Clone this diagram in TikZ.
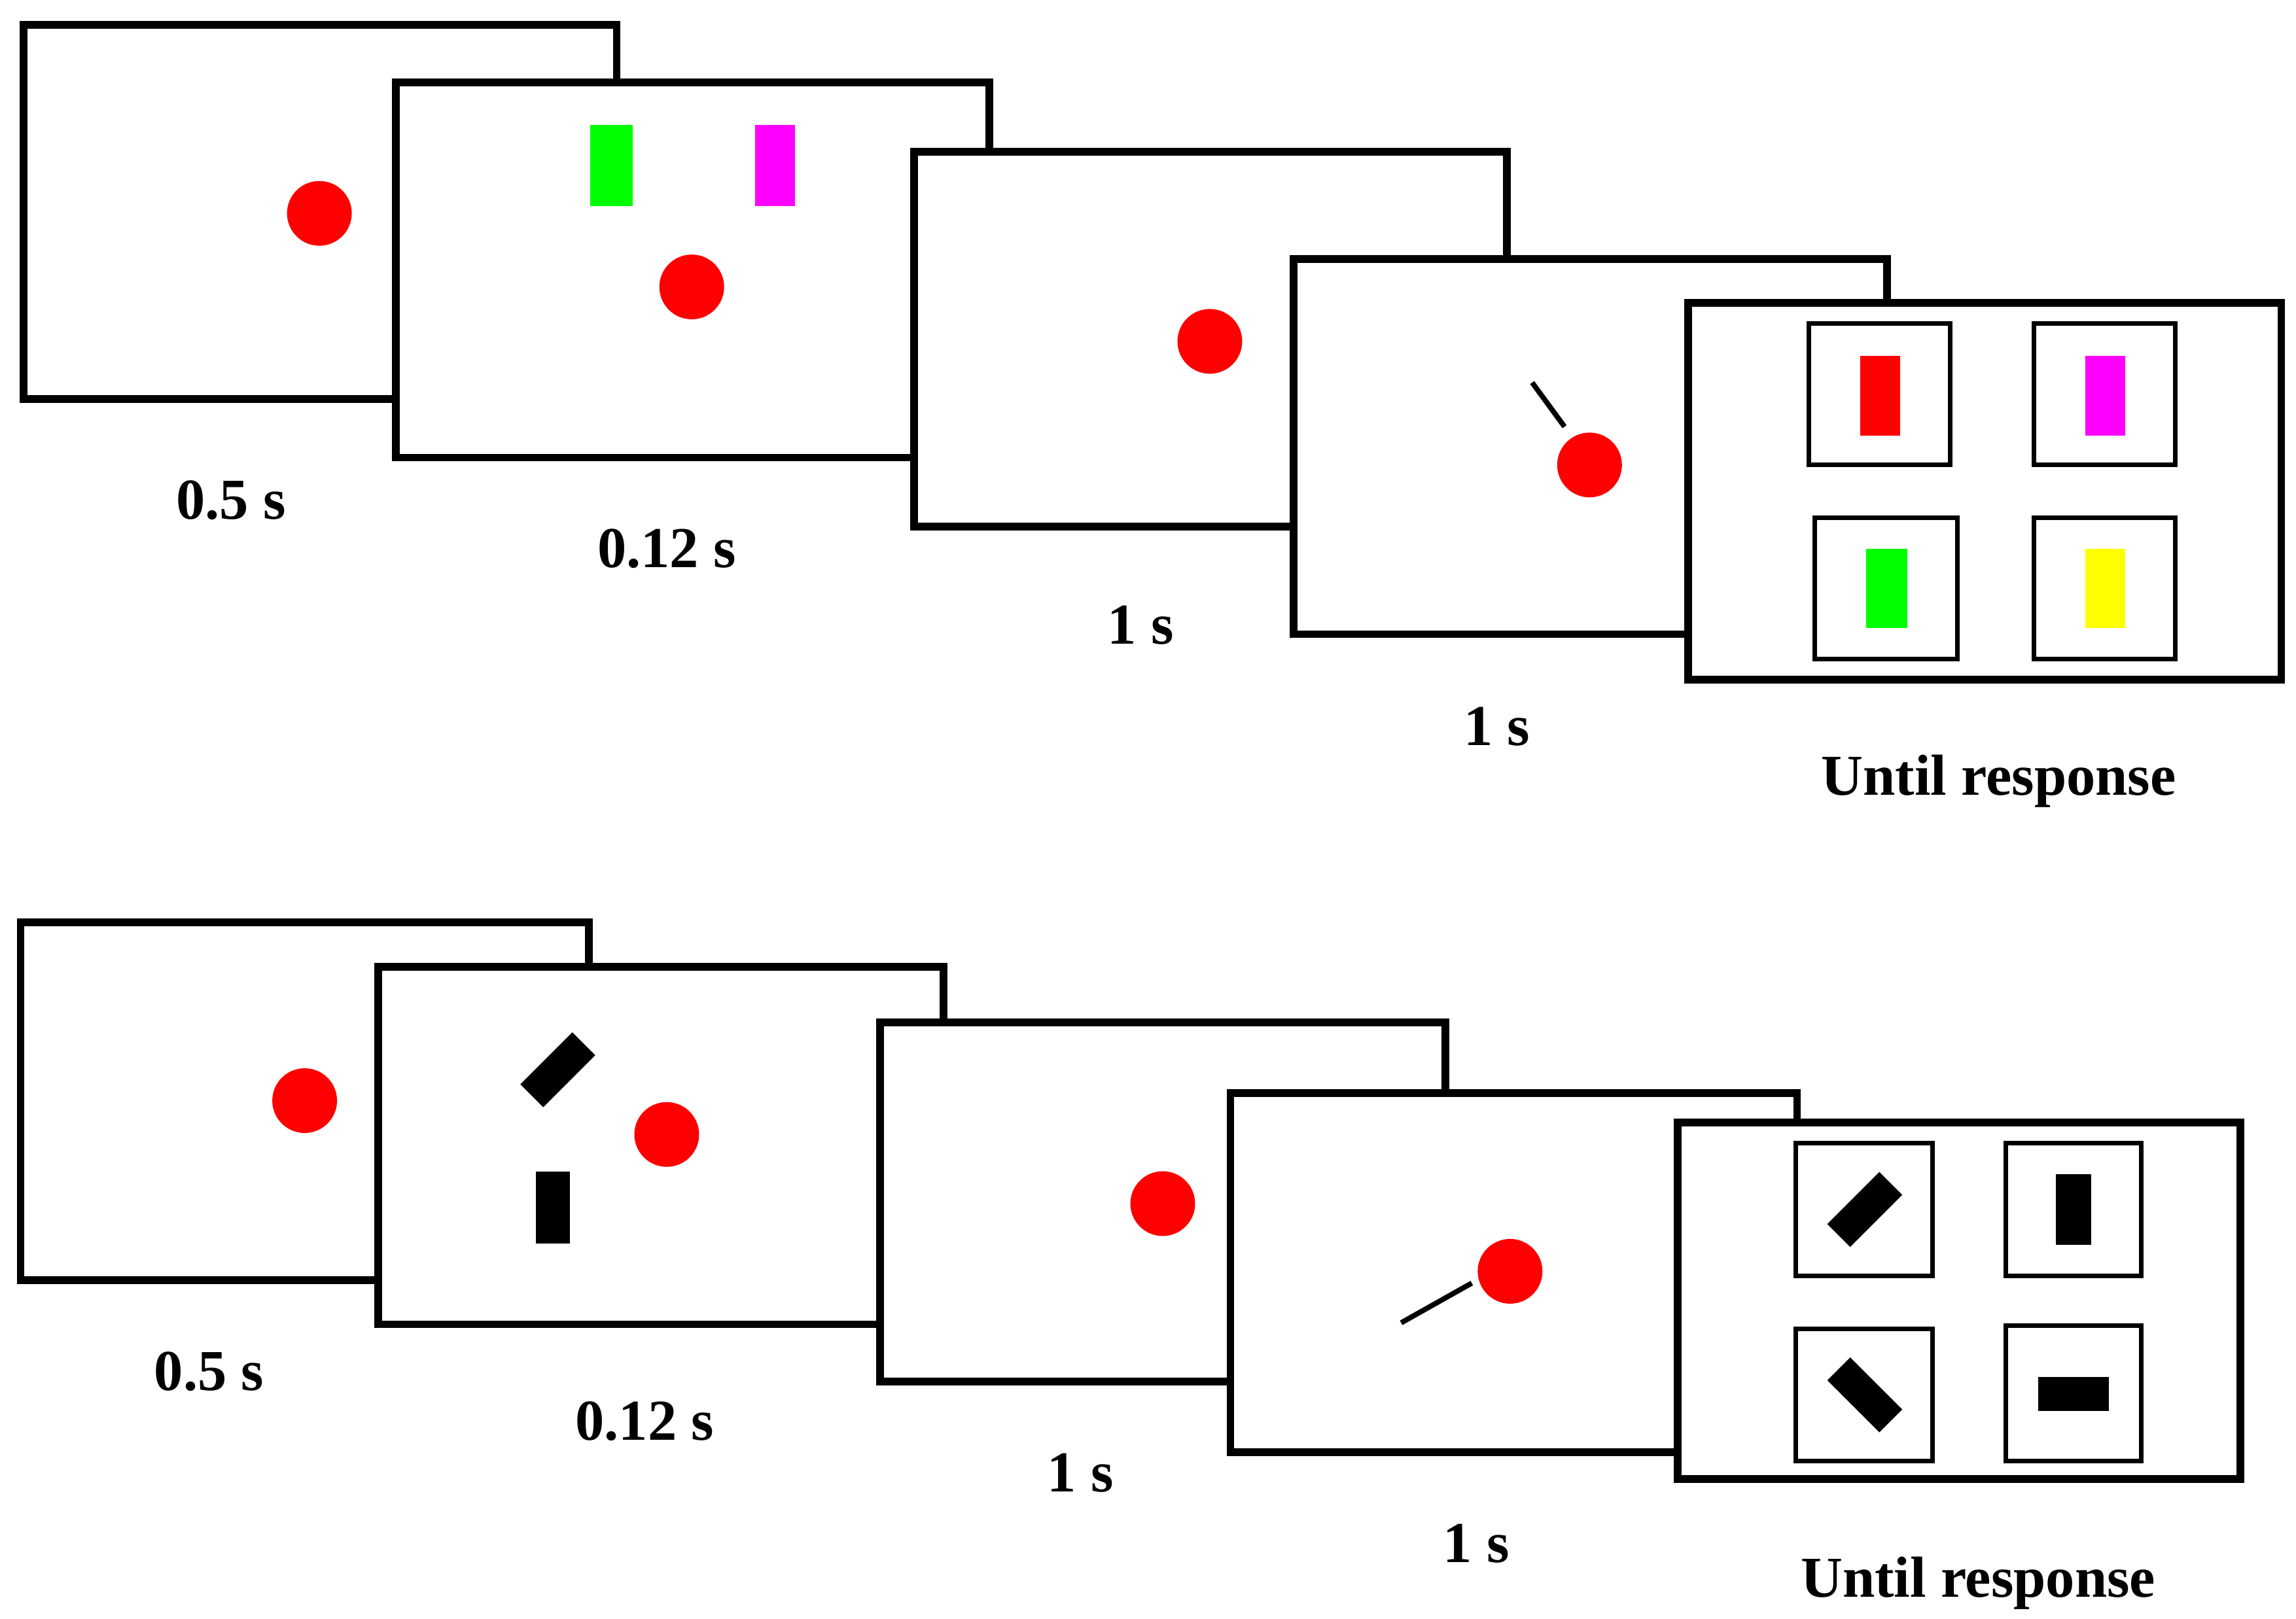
\documentclass[tikz,border=0pt]{standalone}
\usepackage{fontspec}
\setmainfont{Liberation Serif}
\definecolor{mag}{RGB}{255,0,255}
\definecolor{grn}{RGB}{0,255,0}
\definecolor{yel}{RGB}{255,255,0}
\definecolor{rd}{RGB}{255,0,0}
\begin{document}
\begin{tikzpicture}[x=0.05cm,y=-0.05cm,
  frame/.style={draw=black,line width=7.5pt,fill=white},
  box/.style={draw=black,line width=4.5pt,fill=white},
  dot/.style={fill=rd,draw=none},
  lab/.style={font=\bfseries\fontsize{56}{66}\selectfont,inner sep=0pt}]
\useasboundingbox (0,0) rectangle (1560,1100);
% ---------- top row ----------
\draw[frame] (16,17) rectangle (419,271);
\fill[dot] (217,145) circle (22);
\draw[frame] (269,56) rectangle (672,311);
\fill[grn] (401,85) rectangle (430,140);
\fill[mag] (513,85) rectangle (540,140);
\fill[dot] (470,195) circle (22);
\draw[frame] (621,103) rectangle (1024,358);
\fill[dot] (822,232) circle (22);
\draw[frame] (879,176) rectangle (1282,431);
\coordinate (c1a) at (1041,260); \coordinate (c1b) at (1063,290);
\draw[line width=5pt] (c1a) -- (c1b);
\fill[dot] (1080,316) circle (22);
\draw[frame] (1147,206) rectangle (1550,462);
\draw[box] (1229,220) rectangle (1325,316);
\draw[box] (1382,220) rectangle (1478,316);
\draw[box] (1233,352) rectangle (1330,448);
\draw[box] (1382,352) rectangle (1478,448);
\fill[rd] (1264,242) rectangle (1291,296);
\fill[mag] (1417,242) rectangle (1444,296);
\fill[grn] (1268,373) rectangle (1296,427);
\fill[yel] (1417,373) rectangle (1444,427);
\node[lab] (t1) at (157,340) {0.5 s};
\node[lab] (t2) at (453,373) {0.12 s};
\node[lab] (t3) at (775,425) {1 s};
\node[lab] (t4) at (1017,494) {1 s};
\node[lab] (t5) at (1358,531) {Until response};
% ---------- bottom row ----------
\draw[frame] (14,627) rectangle (400,870);
\fill[dot] (207,748) circle (22);
\draw[frame] (257,657) rectangle (641,900);
\fill[black,rotate around={45:(379,727)}] (354,716) rectangle (404,738);
\fill[black] (364,796) rectangle (387,845);
\fill[dot] (453,771) circle (22);
\draw[frame] (598,695) rectangle (982,939);
\fill[dot] (790,818) circle (22);
\draw[frame] (836,743) rectangle (1221,987);
\coordinate (c2a) at (952,899); \coordinate (c2b) at (1000,872);
\draw[line width=5pt] (c2a) -- (c2b);
\fill[dot] (1026,864) circle (22);
\draw[frame] (1140,763) rectangle (1522,1005);
\draw[box] (1220,777) rectangle (1313,867);
\draw[box] (1363,777) rectangle (1455,867);
\draw[box] (1220,903) rectangle (1313,993);
\draw[box] (1363,901) rectangle (1455,993);
\fill[black,rotate around={45:(1267,822)}] (1242,811) rectangle (1292,833);
\fill[black] (1397,798) rectangle (1421,846);
\fill[black,rotate around={-45:(1267,948)}] (1242,937) rectangle (1292,959);
\fill[black] (1385,936) rectangle (1433,959);
\node[lab] (b1) at (142,932) {0.5 s};
\node[lab] (b2) at (438,966) {0.12 s};
\node[lab] (b3) at (734,1001) {1 s};
\node[lab] (b4) at (1003,1049) {1 s};
\node[lab] (b5) at (1344,1076) {Until response};
\end{tikzpicture}
\end{document}
